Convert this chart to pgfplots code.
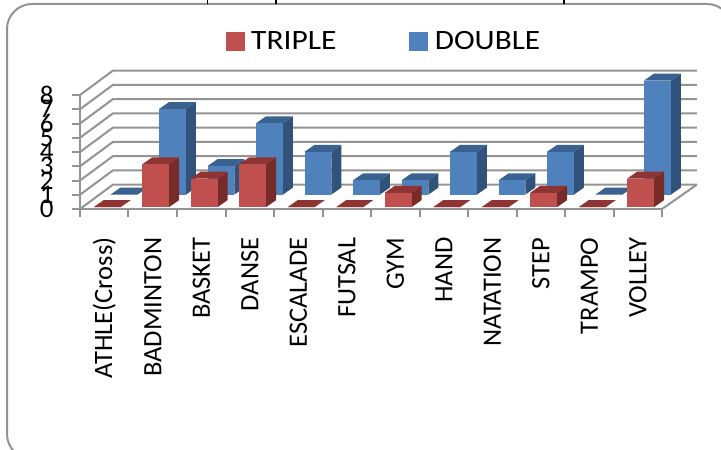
\documentclass[border=0pt]{standalone}
\usepackage{fontspec}
\setmainfont{Carlito}
\usepackage{pgfplots}
\usepackage{pgfplotstable}
\pgfplotsset{compat=1.18}
\definecolor{redF}{HTML}{C0504D}\definecolor{redS}{HTML}{772C2A}\definecolor{redT}{HTML}{8E3432}
\definecolor{bluF}{HTML}{4F81BD}\definecolor{bluS}{HTML}{31527A}\definecolor{bluT}{HTML}{3A6291}
\definecolor{gridc}{HTML}{939393}
\pgfplotstableread{
idx triple double
0 0 0
1 3 6
2 2 2
3 3 5
4 0 3
5 0 1
6 1 1
7 0 3
8 0 1
9 1 3
10 0 0
11 2 8
}\chartdata
% depth of the floor, in axis units
\def\floorx{0.68}\def\floory{1.713}
% bar: index, value, x offset, y base, colour prefix
\newcommand\drawbar[5]{%
  \pgfmathsetmacro\xa{#1+#3}\pgfmathsetmacro\xb{\xa+0.555}%
  \pgfmathsetmacro\xc{\xa+0.206}\pgfmathsetmacro\xd{\xb+0.206}%
  \pgfmathsetmacro\ya{#4}\pgfmathsetmacro\yb{#4+#2}\pgfmathsetmacro\yc{\yb+0.49}\pgfmathsetmacro\ye{\ya+0.49}%
  \edef\cmd{\noexpand\addplot[forget plot,draw=none,fill=#5S] coordinates {(\xb,\ya) (\xd,\ye) (\xd,\yc) (\xb,\yb)} --cycle;
  \noexpand\addplot[forget plot,draw=none,fill=#5T] coordinates {(\xa,\yb) (\xb,\yb) (\xd,\yc) (\xc,\yc)} --cycle;
  \noexpand\addplot[forget plot,draw=none,fill=#5F] coordinates {(\xa,\ya) (\xb,\ya) (\xb,\yb) (\xa,\yb)} --cycle;}%
  \cmd}
\begin{document}
\begin{tikzpicture}[x=1pt,y=1pt]
\useasboundingbox (0,0) rectangle (721,450);
\begin{scope}
\clip (0,0) rectangle (721,450);
\draw[color=gridc,line width=2pt,rounded corners=25pt] (7,-9) rectangle (732,446);
\foreach \xx in {207.5,276,564}{\draw[black,line width=1.5pt] (\xx,446) -- (\xx,451);}
\end{scope}
\begin{axis}[
  at={(80pt,241pt)},anchor=south west,
  scale only axis,width=582pt,height=114pt,
  xmin=0,xmax=12,ymin=0,ymax=8,clip=false,
  axis x line*=bottom,axis y line*=left,
  axis line style={gridc,line width=2pt,-},
  tick style={gridc,line width=2pt},
  tick align=outside,major tick length=8pt,
  xtick={0,...,12},x tick label as interval,
  xticklabels={ATHLE(Cross),BADMINTON,BASKET,DANSE,ESCALADE,FUTSAL,GYM,HAND,NATATION,STEP,TRAMPO,VOLLEY},
  x tick label style={rotate=90,anchor=east,font=\fontsize{26.5}{26.5}\selectfont},
  xticklabel shift=17pt,
  ytick={0,...,8},
  y tick label style={font=\fontsize{27}{27}\selectfont},
  yticklabel shift=15pt,
  /pgf/number format/assume math mode=true,
  legend columns=2,
  legend style={at={(axis cs:2.94,11.8)},anchor=west,draw=none,fill=none,font=\fontsize{28}{28}\selectfont,
    /tikz/every odd column/.append style={column sep=5pt},
    /tikz/every even column/.append style={column sep=71pt}},
  legend cell align=left,
]
\addlegendimage{legend image code/.code={\fill[redF] (0pt,-9pt) rectangle (18pt,9pt);}}
\addlegendentry{\scalebox{1.125}[1]{TRIPLE}}
\addlegendimage{legend image code/.code={\fill[bluF] (0pt,-9pt) rectangle (18pt,9pt);}}
\addlegendentry{\scalebox{1.115}[1]{DOUBLE}}
% back wall, side wall and floor
\pgfplotsinvokeforeach{0,...,8}{%
  \pgfmathsetmacro\yy{#1+\floory}%
  \edef\cmd{\noexpand\addplot[forget plot,gridc,line width=2pt] coordinates {(0,#1) (\floorx,\yy) (12.72,\yy)};}\cmd
}
\addplot[forget plot,gridc,line width=2pt] coordinates {(12,0) (12.72,1.713)};
% DOUBLE bars (back row), then TRIPLE bars (front row)
\pgfplotsinvokeforeach{0,...,11}{%
  \pgfplotstablegetelem{#1}{double}\of\chartdata\let\vv\pgfplotsretval
  \drawbar{#1}{\vv}{0.63}{1.014}{blu}
}
\pgfplotsinvokeforeach{0,...,11}{%
  \pgfplotstablegetelem{#1}{triple}\of\chartdata\let\vv\pgfplotsretval
  \drawbar{#1}{\vv}{0.285}{0.14}{red}
}
\end{axis}
\end{tikzpicture}
\end{document}
